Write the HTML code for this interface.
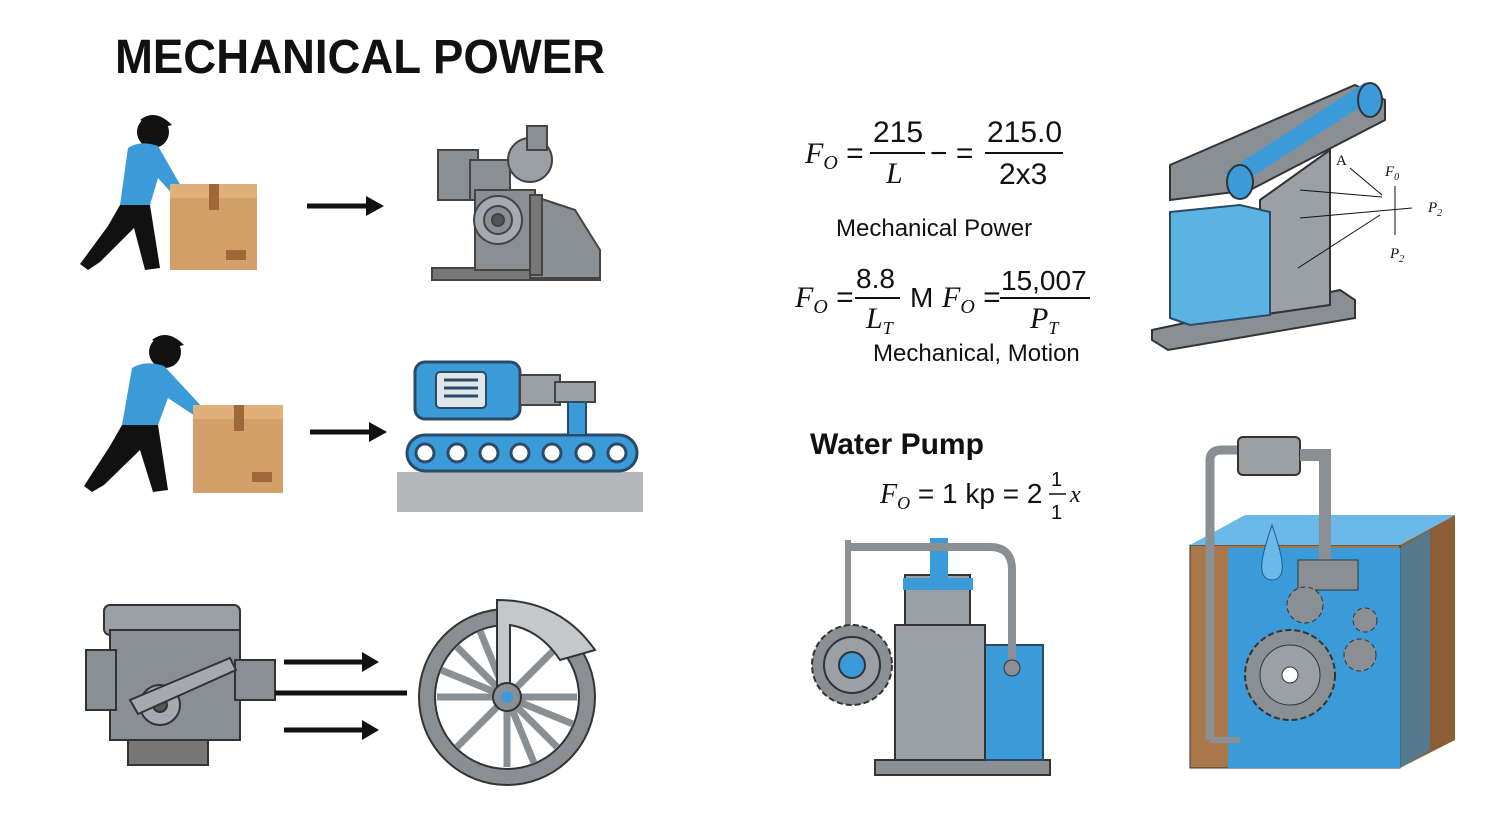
<!DOCTYPE html>
<html><head><meta charset="utf-8"><style>
html,body{margin:0;padding:0;background:#fff}
svg{display:block}
.t{font-family:"Liberation Sans",sans-serif}
.s{font-family:"Liberation Serif",serif;font-style:italic}
</style></head><body>
<svg width="1500" height="818" viewBox="0 0 1500 818" xmlns="http://www.w3.org/2000/svg">
<rect width="1500" height="818" fill="#fff"/>
<text x="115" y="73" class="t" font-size="48" font-weight="bold" fill="#111" textLength="490" lengthAdjust="spacingAndGlyphs">MECHANICAL POWER</text>

<!-- Person 1 -->
<g>
<circle cx="153" cy="132" r="16" fill="#111"/>
<path d="M140 120 Q155 108 172 125 L160 128 Z" fill="#111"/>
<path d="M128 148 Q140 140 158 146 L182 188 L176 198 L158 178 L150 205 L120 205 Z" fill="#3a9bd8"/>
<path d="M120 205 L150 205 L160 268 L145 270 L134 228 L100 262 L88 270 L80 264 L108 226 Z" fill="#111"/>
<rect x="170" y="184" width="87" height="86" fill="#d4a06a"/>
<rect x="170" y="184" width="87" height="14" fill="#e0b07a"/>
<rect x="209" y="184" width="10" height="26" fill="#a0683a"/>
<rect x="226" y="250" width="20" height="10" fill="#a0683a"/>
</g>
<line x1="307" y1="206" x2="370" y2="206" stroke="#111" stroke-width="5"/>
<polygon points="366,196 384,206 366,216" fill="#111"/>

<!-- Machine 1 -->
<g fill="#8a8f94" stroke="#444" stroke-width="2">
<rect x="432" y="268" width="168" height="12" fill="#777"/>
<path d="M530 195 L575 210 L600 250 L600 278 L530 278 Z" fill="#8a8f94"/>
<rect x="438" y="150" width="40" height="50"/>
<rect x="470" y="160" width="40" height="40"/>
<circle cx="530" cy="160" r="22" fill="#9aa0a5"/>
<rect x="527" y="126" width="20" height="24"/>
<rect x="475" y="190" width="60" height="80"/>
<circle cx="498" cy="220" r="24" fill="#a4aab0"/>
<circle cx="498" cy="220" r="14" fill="#8a8f94"/>
<circle cx="498" cy="220" r="6" fill="#555"/>
<rect x="530" y="195" width="12" height="80" fill="#777"/>
</g>

<!-- Person 2 -->
<g>
<circle cx="165" cy="352" r="16" fill="#111"/>
<path d="M152 340 Q167 328 184 345 L172 348 Z" fill="#111"/>
<path d="M132 368 Q145 360 164 366 L205 410 L198 418 L168 398 L158 425 L122 425 Z" fill="#3a9bd8"/>
<path d="M122 425 L158 425 L168 490 L153 492 L140 450 L104 485 L92 492 L84 486 L110 446 Z" fill="#111"/>
<rect x="193" y="405" width="90" height="88" fill="#d4a06a"/>
<rect x="193" y="405" width="90" height="14" fill="#e0b07a"/>
<rect x="234" y="405" width="10" height="26" fill="#a0683a"/>
<rect x="252" y="472" width="20" height="10" fill="#a0683a"/>
</g>
<line x1="310" y1="432" x2="373" y2="432" stroke="#111" stroke-width="5"/>
<polygon points="369,422 387,432 369,442" fill="#111"/>

<!-- Conveyor -->
<rect x="397" y="472" width="246" height="40" fill="#b4b8bb"/>
<rect x="407" y="435" width="230" height="36" rx="18" fill="#3a9bd8" stroke="#2a4a66" stroke-width="3"/>
<g fill="#fff" stroke="#2a4a66" stroke-width="3">
<circle cx="425" cy="453" r="9"/><circle cx="457" cy="453" r="9"/><circle cx="489" cy="453" r="9"/><circle cx="520" cy="453" r="9"/><circle cx="552" cy="453" r="9"/><circle cx="585" cy="453" r="9"/><circle cx="617" cy="453" r="9"/>
</g>
<rect x="415" y="362" width="105" height="57" rx="10" fill="#3a9bd8" stroke="#2a4a66" stroke-width="3"/>
<rect x="436" y="372" width="50" height="36" rx="4" fill="#dfe6ea" stroke="#2a4a66" stroke-width="2"/>
<g stroke="#2a4a66" stroke-width="3"><line x1="444" y1="380" x2="478" y2="380"/><line x1="444" y1="388" x2="478" y2="388"/><line x1="444" y1="396" x2="478" y2="396"/></g>
<rect x="520" y="375" width="40" height="30" fill="#9aa0a5" stroke="#444" stroke-width="2"/>
<rect x="555" y="382" width="40" height="20" fill="#9aa0a5" stroke="#444" stroke-width="2"/>
<rect x="568" y="402" width="18" height="33" fill="#3a9bd8" stroke="#2a4a66" stroke-width="2"/>

<!-- Engine -->
<g fill="#8a8f94" stroke="#333" stroke-width="2">
<rect x="104" y="605" width="136" height="30" rx="6" fill="#9aa0a5"/>
<rect x="110" y="630" width="130" height="110"/>
<rect x="86" y="650" width="30" height="60"/>
<rect x="235" y="660" width="40" height="40"/>
<rect x="128" y="740" width="80" height="25" fill="#777"/>
<circle cx="160" cy="705" r="20" fill="#a4aab0"/>
<circle cx="160" cy="705" r="7" fill="#555"/>
<path d="M130 700 L230 658 L236 670 L138 714 Z" fill="#a4aab0"/>
</g>
<line x1="284" y1="662" x2="365" y2="662" stroke="#111" stroke-width="5"/>
<polygon points="362,652 379,662 362,672" fill="#111"/>
<line x1="275" y1="693" x2="407" y2="693" stroke="#111" stroke-width="5"/>
<line x1="284" y1="730" x2="365" y2="730" stroke="#111" stroke-width="5"/>
<polygon points="362,720 379,730 362,740" fill="#111"/>

<!-- Wheel -->
<circle cx="507" cy="697" r="88" fill="#8a8f94" stroke="#333" stroke-width="2"/>
<circle cx="507" cy="697" r="72" fill="#fff" stroke="#333" stroke-width="2"/>
<g stroke="#8a8f94" stroke-width="7">
<line x1="507" y1="697" x2="507" y2="627"/><line x1="507" y1="697" x2="507" y2="767"/>
<line x1="507" y1="697" x2="437" y2="697"/><line x1="507" y1="697" x2="577" y2="697"/>
<line x1="507" y1="697" x2="457" y2="647"/><line x1="507" y1="697" x2="557" y2="747"/>
<line x1="507" y1="697" x2="457" y2="747"/><line x1="507" y1="697" x2="557" y2="647"/>
<line x1="507" y1="697" x2="480" y2="631"/><line x1="507" y1="697" x2="534" y2="763"/>
<line x1="507" y1="697" x2="441" y2="670"/><line x1="507" y1="697" x2="573" y2="724"/>
</g>
<path d="M497 600 Q560 600 595 650 L560 660 Q540 630 510 625 L510 690 L497 690 Z" fill="#c4c8cb" stroke="#333" stroke-width="2"/>
<circle cx="507" cy="697" r="14" fill="#8a8f94" stroke="#333" stroke-width="2"/>
<circle cx="507" cy="697" r="6" fill="#3a9bd8"/>

<!-- Formulas -->
<g fill="#111">
<text x="805" y="163" class="s" font-size="30">F<tspan font-size="20" dy="6">O</tspan><tspan dy="-6" font-style="normal" class="t"> =</tspan></text>
<text x="873" y="142" class="t" font-size="30">215</text>
<line x1="870" y1="153" x2="925" y2="153" stroke="#111" stroke-width="2"/>
<text x="886" y="183" class="s" font-size="30">L</text>
<text x="930" y="163" class="t" font-size="30">− =</text>
<text x="987" y="142" class="t" font-size="30">215.0</text>
<line x1="985" y1="153" x2="1063" y2="153" stroke="#111" stroke-width="2"/>
<text x="999" y="184" class="t" font-size="30">2x3</text>
<text x="836" y="236" class="t" font-size="24">Mechanical Power</text>
<text x="795" y="307" class="s" font-size="30">F<tspan font-size="20" dy="6">O</tspan><tspan dy="-6" font-style="normal" class="t"> =</tspan></text>
<text x="856" y="288" class="t" font-size="28">8.8</text>
<line x1="855" y1="298" x2="900" y2="298" stroke="#111" stroke-width="2"/>
<text x="866" y="328" class="s" font-size="30">L<tspan font-size="18" dy="6">T</tspan></text>
<text x="910" y="307" class="t" font-size="28">M</text>
<text x="942" y="307" class="s" font-size="30">F<tspan font-size="20" dy="6">O</tspan><tspan dy="-6" font-style="normal" class="t"> =</tspan></text>
<text x="1001" y="290" class="t" font-size="28">15,007</text>
<line x1="1000" y1="298" x2="1090" y2="298" stroke="#111" stroke-width="2"/>
<text x="1030" y="328" class="s" font-size="30">P<tspan font-size="18" dy="6">T</tspan></text>
<text x="873" y="361" class="t" font-size="24">Mechanical, Motion</text>
<text x="810" y="454" class="t" font-size="30" font-weight="bold">Water Pump</text>
<text x="880" y="503" class="s" font-size="28">F<tspan font-size="18" dy="6">O</tspan><tspan dy="-6" font-style="normal" class="t"> = 1 kp = 2</tspan></text>
<text x="1051" y="486" class="t" font-size="20">1</text>
<line x1="1049" y1="494" x2="1066" y2="494" stroke="#111" stroke-width="1.5"/>
<text x="1051" y="519" class="t" font-size="20">1</text>
<text x="1070" y="502" class="s" font-size="24" font-style="normal">x</text>
</g>

<!-- Top right machine -->
<polygon points="1152,330 1340,290 1355,300 1355,318 1168,350 1152,340" fill="#8a8f94" stroke="#333" stroke-width="2"/>
<polygon points="1260,200 1330,150 1330,305 1260,315" fill="#9aa0a5" stroke="#333" stroke-width="2"/>
<polygon points="1170,165 1355,85 1385,100 1385,120 1250,190 1170,200" fill="#8a8f94" stroke="#333" stroke-width="2"/>
<path d="M1230 180 L1370 90" stroke="#3a9bd8" stroke-width="18"/>
<ellipse cx="1240" cy="182" rx="13" ry="17" fill="#3a9bd8" stroke="#333" stroke-width="2"/>
<ellipse cx="1370" cy="100" rx="12" ry="17" fill="#3a9bd8" stroke="#333" stroke-width="2"/>
<polygon points="1170,212 1240,205 1270,212 1270,315 1190,325 1170,318" fill="#5bb3e4" stroke="#2a4a66" stroke-width="2"/>
<g stroke="#111" stroke-width="1" fill="none">
<line x1="1300" y1="190" x2="1382" y2="197"/><line x1="1300" y1="218" x2="1412" y2="208"/><line x1="1298" y1="268" x2="1380" y2="215"/>
<line x1="1350" y1="168" x2="1382" y2="195"/><line x1="1395" y1="186" x2="1395" y2="235"/>
</g>
<g class="s" font-size="15" fill="#111"><text x="1336" y="165" font-style="normal">A</text><text x="1385" y="176">F<tspan font-size="10" dy="4">0</tspan></text><text x="1428" y="212">P<tspan font-size="10" dy="4">2</tspan></text><text x="1390" y="258">P<tspan font-size="10" dy="4">2</tspan></text></g>

<!-- Pump -->
<rect x="875" y="760" width="175" height="15" fill="#8a8f94" stroke="#333" stroke-width="2"/>
<rect x="980" y="645" width="63" height="115" fill="#3a9bd8" stroke="#2a4a66" stroke-width="2"/>
<rect x="895" y="625" width="90" height="135" fill="#9aa0a5" stroke="#333" stroke-width="2"/>
<rect x="905" y="575" width="65" height="50" fill="#9aa0a5" stroke="#333" stroke-width="2"/>
<rect x="903" y="578" width="70" height="12" fill="#3a9bd8"/>
<rect x="930" y="538" width="18" height="40" fill="#3a9bd8"/>
<path d="M845 547 L990 547 Q1012 547 1012 570 L1012 670" stroke="#8a8f94" stroke-width="8" fill="none"/>
<line x1="848" y1="540" x2="848" y2="640" stroke="#8a8f94" stroke-width="6"/>
<circle cx="1012" cy="668" r="8" fill="#8a8f94" stroke="#333"/>
<circle cx="852" cy="665" r="40" fill="#8a8f94" stroke="#333" stroke-width="2" stroke-dasharray="6 3"/>
<circle cx="852" cy="665" r="28" fill="#9aa0a5" stroke="#333" stroke-width="2"/>
<circle cx="852" cy="665" r="13" fill="#3a9bd8" stroke="#333" stroke-width="2"/>

<!-- Tank -->
<polygon points="1400,545 1455,515 1455,740 1400,768" fill="#8c5e35"/>
<polygon points="1190,545 1400,545 1400,768 1190,768" fill="#a9774a" stroke="#333" stroke-width="1"/>
<polygon points="1190,545 1245,515 1455,515 1400,545" fill="#6ab9e8"/>
<rect x="1228" y="548" width="172" height="220" fill="#3a9bd8"/>
<polygon points="1400,548 1430,530 1430,750 1400,768" fill="#2f8cc7" opacity="0.6"/>
<path d="M1210 740 L1210 460 Q1210 450 1222 450 L1240 450" stroke="#8a8f94" stroke-width="9" fill="none"/>
<rect x="1238" y="437" width="62" height="38" rx="5" fill="#9aa0a5" stroke="#333" stroke-width="2"/>
<path d="M1300 455 L1325 455 L1325 560" stroke="#8a8f94" stroke-width="12" fill="none"/>
<rect x="1298" y="560" width="60" height="30" fill="#8a8f94" stroke="#333"/>
<circle cx="1290" cy="675" r="45" fill="#8a8f94" stroke="#333" stroke-width="2" stroke-dasharray="6 3"/>
<circle cx="1290" cy="675" r="30" fill="#9aa0a5" stroke="#333"/>
<circle cx="1290" cy="675" r="8" fill="#fff" stroke="#333"/>
<circle cx="1305" cy="605" r="18" fill="#8a8f94" stroke="#333" stroke-dasharray="5 3"/>
<circle cx="1360" cy="655" r="16" fill="#8a8f94" stroke="#333" stroke-dasharray="5 3"/>
<circle cx="1365" cy="620" r="12" fill="#8a8f94" stroke="#333" stroke-dasharray="5 3"/>
<path d="M1272 525 Q1260 560 1262 570 A10 10 0 0 0 1282 570 Q1284 560 1272 525 Z" fill="#6ab9e8" stroke="#1f5c8a"/>
<line x1="1210" y1="740" x2="1240" y2="740" stroke="#8a8f94" stroke-width="6"/>
</svg>
</body></html>
